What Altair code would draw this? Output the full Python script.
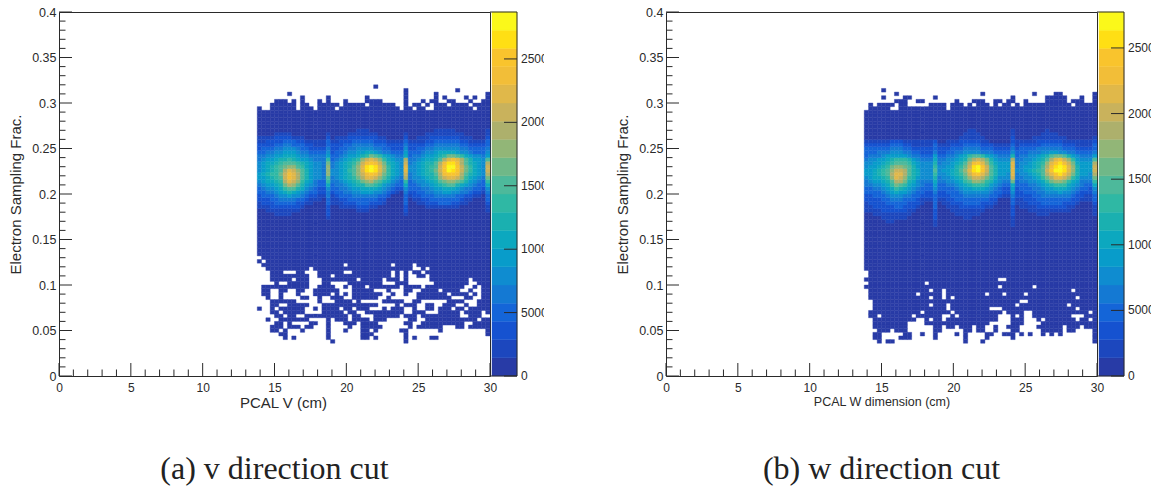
import altair as alt
import pandas as pd

PALETTE = ["#283BA6", "#1C47BE", "#1552D0", "#1465D8", "#1479D3", "#0F8CD0", "#089CCA", "#0CA8BF",
           "#1AB0B0", "#2FB8A4", "#4DB99B", "#6FB888", "#92B677", "#ADB06C", "#C9B25C", "#E0B84A",
           "#F2BE38", "#F9C42D", "#FFDF14", "#FBF81A"]
LEVELS = "0123456789abcdefghij"
FIRST_COL = 46      # first filled bin (x = 13.8 cm)
NCOLS = 54

# colour levels of the band, top row is y bin 67, pieces: blob1 | spike | blob2 | spike | blob3 | edge
band_v = [
 "0000000000000000" "0" "00000011100000000" "0" "000000111110000000" "1",
 "0000111100000000" "1" "00001111111000000" "1" "000011111111100000" "1",
 "1111222211100000" "2" "01112222222110000" "2" "001112222222111000" "2",
 "1122223332211111" "3" "11222333332221111" "3" "111122333333221111" "3",
 "2222334433322111" "3" "22233444443332222" "4" "222233444444332222" "3",
 "2333445554332222" "4" "22334455554433222" "5" "223344555555443333" "4",
 "3344556665443333" "5" "23345566776544333" "6" "333455677776554333" "5",
 "4455667776554444" "6" "334566789ba976544" "7" "344566789bba976554" "6",
 "4566788987665444" "9" "3456789cefec97655" "d" "4456778adfgfda8665" "a",
 "567789aaa9876554" "b" "456789beghgeb8765" "e" "456788adgiigda8765" "d",
 "56789abcca976554" "c" "45678acfijifc9765" "f" "556789aehjjheb9765" "e",
 "56789adfeca86554" "c" "55679acfijifc9765" "f" "556789behjiheb9765" "e",
 "67899begfda86554" "c" "55678aceghgeb9765" "e" "456788adghhgda8765" "d",
 "66789aegfda86554" "a" "456789bdffeca8654" "d" "4556789ceffec97654" "b",
 "567789dfec976433" "9" "4456789bcdba87543" "9" "3455678abccba86543" "9",
 "456678bdca865433" "7" "34456788aa9865433" "7" "334556789aa8765433" "7",
 "3455679aa8754322" "5" "33445667777654322" "5" "333445667776544332" "5",
 "3344567876543322" "4" "23344556665543210" "4" "223344556655443221" "4",
 "2333455655432211" "4" "12333444444332000" "3" "122333444443322110" "3",
 "2223344443321110" "3" "11223333333220000" "3" "011223333333211000" "3",
 "1222333332211000" "3" "11122233322210000" "3" "001122233322110000" "2",
 "1112222222100000" "2" "00111122211000000" "2" "000011111111000000" "1",
 "0011111111000000" "2" "00000011100000000" "2" "000000000000000000" "1",
 "0000111100000000" "2" "00000000000000000" "1" "000000000000000000" "0",
 "0000000000000000" "1" "00000000000000000" "0" "000000000000000000" "0",
]
band_w = [
 "0000000000000000" "0" "00000001100000000" "1" "000000010000000000" "0",
 "0000000000000000" "0" "00000011110000000" "1" "000000111100000000" "0",
 "0000000000000000" "0" "00000111111000000" "2" "000011111111000000" "1",
 "1111112221111111" "2" "00111222221100000" "2" "111112222221111111" "2",
 "2222223332211111" "3" "11122233332221111" "3" "122222333332221111" "3",
 "3333334443322222" "3" "22233344443332222" "4" "233334444443332222" "3",
 "3334445554433222" "4" "22334455554443333" "5" "333444556655443333" "4",
 "3444566666544333" "6" "33445679aa9765444" "8" "34455678abba865444" "6",
 "4556678999865444" "7" "4455678bdedb86555" "d" "4455678adfgec96555" "a",
 "5566789aaa976555" "8" "455678adghfc97666" "f" "4556789cfhigeb7666" "d",
 "566789bccba86555" "9" "556689beijhea8666" "f" "456678adgijifc8666" "e",
 "66789aceeda87555" "a" "56678acfijhea8666" "f" "556789aehjjifc8666" "e",
 "66789adffda87555" "9" "556789beghfda8665" "f" "455678adfhigeb8665" "d",
 "567789cfec986555" "8" "455678aceedb97555" "e" "4455679bdffec97555" "b",
 "456678addb875444" "7" "4455679accb986544" "b" "34455679bccb976444" "9",
 "4455679ba9765433" "6" "33445678999865433" "7" "333445678999765433" "7",
 "3344567987654333" "5" "33334566777654322" "6" "233344566777654332" "5",
 "3333456766543322" "4" "22333455555543322" "5" "223334455565543222" "4",
 "2233345554433222" "3" "22233344444433211" "4" "222233444444432211" "3",
 "2222334443332111" "3" "11223333333322000" "3" "112223333333322111" "3",
 "1222233333222100" "3" "01122233332221000" "3" "111222333332221000" "2",
 "1122222332221000" "3" "00111222222110000" "2" "011112222222110000" "1",
 "1111222222110000" "2" "00011111111000000" "2" "000111111111100000" "1",
 "0011111111100000" "2" "00001111110000000" "2" "000001110000000000" "1",
 "0000111111000000" "2" "00000011000000000" "1" "000000000000000000" "0",
 "0000011000000000" "1" "00000000000000000" "1" "000000000000000000" "0",
 "0000000000000000" "1" "00000000000000000" "1" "000000000000000000" "0",
]

# sparse rows: y bin -> filled columns
filled_v = {
 79: "27", 78: "34 46", 77: "7 34 41 53", 76: "10 16 25 34 41 43 48 50 53",
 75: "4-6 8 10 14 16 20 25-28 34 38 40-41 44-45 49 52-53",
 74: "3-8 10-11 14-18 20-24 26-31 34 36-37 39 41-43 45-48 50-53",
 73: "0 3-8 10-12 14-17 19-32 34-35 37-38 41-49 51-53",
 32: "1-53", 31: "0 2-53", 30: "1-19 21-30 32-35 37-53", 29: "2-11 13-35 38 40-53",
 28: "3-5 9-10 14-19 22-30 32 34 36-37 39-53", 27: "3-11 14-16 18-30 32 34 37-38 40-53",
 26: "3-7 9-11 15-22 24-28 30-32 34 40-48 50-53", 25: "4 7-11 15-16 21-28 32-34 41-48 51-53",
 24: "1-11 14-17 20 22-24 26-32 34-37 39-47 50 52-53",
 23: "1-2 5-6 9-10 13-18 22-26 30 34-35 38-41 43-46 49 52-53",
 22: "1-2 5 9 13-16 18 20 22-28 31 34 37-43 45-48 50 52-53",
 21: "2 5 10-11 14 17-19 22-27 30 37-44 48-49 52-53",
 20: "3-8 14 18-21 23 29-33 36-37 44-47 51-53",
 19: "3-4 7-11 15-27 32 34-36 39-40 43-45 48 51-53",
 18: "0 3 5-10 13 15-18 20-21 23-25 29 31-33 36 39-40 42-44 46-47 49-53",
 17: "3-4 6-10 15-19 21-22 25-33 36-38 42-46 48-51 53",
 16: "4-5 7-8 11-20 22-23 27-32 34-36 38-46 49-51",
 15: "2 5-11 16 18-20 22-25 27-29 35-36 39-50 52-53",
 14: "4-5 7 12-13 16 20-22 24-27 34-35 38-47 50-53",
 13: "3-5 7-9 11-12 16 21 24-28 35 37-42 46-47 49-53",
 12: "3-4 6 10 16 20 24-25 27 33-34 42 53",
 11: "5-6 16 24-26 34 53", 10: "6 8 16 24-25 27 34 36 40-41", 9: "17 34",
}
filled_w = {
 78: "4", 77: "7 27 39 44-45 53", 76: "4 9-10 16 34 42-46 50 53",
 75: "7-9 12-13 21 25-27 30-31 33-34 37 42-46 48-50 53",
 74: "1 3-6 8-9 15-18 20-22 24 26-28 30 32-33 35 37-47 49-53",
 73: "1-5 8-18 20-53",
 13: "2-9 16-17 19-20 22-24 26-27 30 33-35 40-45 47-49 51-53",
 12: "3-5 7-9 16-17 23-24 26-27 30 34-35 41-45 47-48 53",
 11: "2-3 9-10 13 16 21 23 28-29 32-34 36 38 41 43 45 53",
 10: "2-3 8-10 16 23 28 34 53", 9: "3 5-6 23 27 53",
}
# nearly full rows: y bin -> empty columns
holes_w = {
 28: "0", 27: "0", 26: "31-32", 25: "0 14", 24: "31 39", 23: "0 15 18 48",
 22: "0 12 18 28 32 37", 21: "0 15 18 20 49", 20: "0-1 36-37", 19: "0-1 15 19 35 47",
 18: "0-1 19 29-31 49", 17: "0 13 20 32 37-38 52",
 16: "0 3 11 18-19 21 31-33 35 37-38 48-50", 15: "0-1 12-13 15 18 31-33 37-39 41 49 52",
 14: "0-1 10-13 29-33 37-40",
}
holes_v = {}

x_major = [0, 5, 10, 15, 20, 25, 30]
x_minor = [1, 2, 3, 4, 6, 7, 8, 9, 11, 12, 13, 14, 16, 17, 18, 19, 21, 22, 23, 24, 26, 27, 28, 29]
y_major = [0, 0.05, 0.1, 0.15, 0.2, 0.25, 0.3, 0.35, 0.4]
y_minor = [0.01, 0.02, 0.03, 0.04, 0.06, 0.07, 0.08, 0.09, 0.11, 0.12, 0.13, 0.14, 0.16, 0.17, 0.18, 0.19,
           0.21, 0.22, 0.23, 0.24, 0.26, 0.27, 0.28, 0.29, 0.31, 0.32, 0.33, 0.34, 0.36, 0.37, 0.38, 0.39]
bar_ticks = [0, 5000, 10000, 15000, 20000, 25000]
bar_labels = ["0", "5000", "10000", "15000", "20000", "25000"]
MAX_V = 28700
MAX_W = 27740

FONT = "Liberation Sans"
INK = "#2a2a2a"
W, H = 431, 364
BAR_W = 54
GAP = 122


def expand(spec):
    out = []
    for part in spec.split():
        if "-" in part:
            a, b = part.split("-")
            out.extend(range(int(a), int(b) + 1))
        else:
            out.append(int(part))
    return out


def cells(band, filled, holes):
    rows = {}
    for j in range(14, 73):
        rows[j] = ["0"] * NCOLS
    for k, s in enumerate(band):
        assert len(s) == NCOLS, (k, len(s))
        rows[67 - k] = list(s)
    for j, spec in filled.items():
        r = ["."] * NCOLS
        for c in expand(spec):
            r[c] = "0"
        rows[j] = r
    for j, spec in holes.items():
        r = ["0"] * NCOLS
        for c in expand(spec):
            r[c] = "."
        rows[j] = r
    recs = []
    for j, r in rows.items():
        for i, ch in enumerate(r):
            if ch != ".":
                col = FIRST_COL + i
                recs.append({"x": col * 0.3, "x2": (col + 1) * 0.3, "y": j * 0.004, "y2": (j + 1) * 0.004,
                             "c": PALETTE[LEVELS.index(ch)]})
    return pd.DataFrame(recs)


def panel(df, xtitle, caption, title_x, title_size):
    xs = alt.Scale(domain=[0, 30], nice=False, zero=False)
    ys = alt.Scale(domain=[0, 0.4], nice=False, zero=False)
    heat = alt.Chart(df).mark_rect(strokeWidth=0.4).encode(
        x=alt.X("x:Q", scale=xs, title=xtitle,
                axis=alt.Axis(values=x_major, format="~g", tickSize=0, domain=False, grid=False, labelFont=FONT,
                              labelFontSize=12, labelColor=INK, labelPadding=6, labelFlush=False, titleFont=FONT,
                              titleFontSize=title_size, titleFontWeight="normal", titleColor=INK, titlePadding=2,
                              titleX=title_x)),
        x2="x2:Q",
        y=alt.Y("y:Q", scale=ys, title="Electron Sampling Frac.",
                axis=alt.Axis(values=y_major, format="~g", tickSize=0, domain=False, grid=False, labelFont=FONT,
                              labelFontSize=12.5, labelColor=INK, labelPadding=3, labelFlush=False, titleFont=FONT,
                              titleFontSize=15, titleFontWeight="normal", titleColor=INK, titlePadding=8)),
        y2="y2:Q",
        color=alt.Color("c:N", scale=None),
        stroke=alt.Stroke("c:N", scale=None),
    )

    def xt(vals, length):
        return alt.Chart(pd.DataFrame({"v": vals})).mark_rule(color=INK, strokeWidth=1).encode(
            x=alt.X("v:Q", scale=xs), y=alt.value(H), y2=alt.value(H - length))

    def yt(vals, length):
        return alt.Chart(pd.DataFrame({"v": vals})).mark_rule(color=INK, strokeWidth=1).encode(
            y=alt.Y("v:Q", scale=ys), x=alt.value(0), x2=alt.value(length))

    cap = alt.Chart(pd.DataFrame({"t": [caption]})).mark_text(
        font="Liberation Serif", fontSize=32, color="#222222", align="center", baseline="middle"
    ).encode(text="t:N", x=alt.value(215.5), y=alt.value(457))
    return alt.layer(heat, xt(x_major, 13), xt(x_minor, 6.5), yt(y_major, 13), yt(y_minor, 6.5), cap).properties(
        width=W, height=H, view=alt.ViewConfig(stroke=INK, strokeWidth=1))


def colorbar(ticks, labels, vmax):
    xs = alt.Scale(domain=[0, BAR_W], nice=False, zero=False)
    ys = alt.Scale(domain=[0, vmax], nice=False, zero=False)
    step = vmax / 20
    levels = pd.DataFrame([{"x": 2, "x2": 27, "y": k * step, "y2": (k + 1) * step, "c": PALETTE[k]} for k in range(20)])
    rects = alt.Chart(levels).mark_rect(strokeWidth=0.4).encode(
        x=alt.X("x:Q", scale=xs, axis=None), x2="x2:Q",
        y=alt.Y("y:Q", scale=ys, axis=None), y2="y2:Q",
        color=alt.Color("c:N", scale=None), stroke=alt.Stroke("c:N", scale=None))
    tick_df = pd.DataFrame({"v": ticks, "t": labels})
    marks = alt.Chart(tick_df).mark_rule(color=INK, strokeWidth=1).encode(
        y=alt.Y("v:Q", scale=ys, axis=None), x=alt.value(14), x2=alt.value(27))
    text = alt.Chart(tick_df[1:]).mark_text(font=FONT, fontSize=12, color=INK, align="left", baseline="middle",
                                            clip=True).encode(
        y=alt.Y("v:Q", scale=ys, axis=None), x=alt.value(31), text="t:N")
    text0 = alt.Chart(tick_df[:1]).mark_text(font=FONT, fontSize=12, color=INK, align="left",
                                             baseline="middle").encode(
        y=alt.Y("v:Q", scale=ys, axis=None), x=alt.value(31), text="t:N")
    right = alt.Chart(pd.DataFrame({"a": [0], "b": [vmax]})).mark_rule(color=INK, strokeWidth=1).encode(
        y=alt.Y("a:Q", scale=ys, axis=None), y2="b:Q", x=alt.value(27))
    edge = alt.Chart(pd.DataFrame({"a": [0, vmax]})).mark_rule(color=INK, strokeWidth=1).encode(
        y=alt.Y("a:Q", scale=ys, axis=None), x=alt.value(0), x2=alt.value(27))
    return alt.layer(rects, marks, right, edge, text, text0).properties(
        width=BAR_W, height=H, view=alt.ViewConfig(stroke=None))


spacer = alt.Chart(pd.DataFrame({"a": [0]})).mark_rule(opacity=0).encode(x=alt.value(0)).properties(
    width=GAP, height=H, view=alt.ViewConfig(stroke=None))

chart = alt.hconcat(
    panel(cells(band_v, filled_v, holes_v), "PCAL V (cm)", "(a) v direction cut", 224, 15),
    colorbar(bar_ticks, bar_labels, MAX_V),
    spacer,
    panel(cells(band_w, filled_w, holes_w), "PCAL W dimension (cm)", "(b) w direction cut", 215.5, 12.5),
    colorbar(bar_ticks, bar_labels, MAX_W),
    spacing=0, bounds="flush",
).properties(padding={"left": 0, "top": -3, "right": 0, "bottom": 0})
chart.save("out.html", embed_options={"renderer": "svg", "actions": False})
